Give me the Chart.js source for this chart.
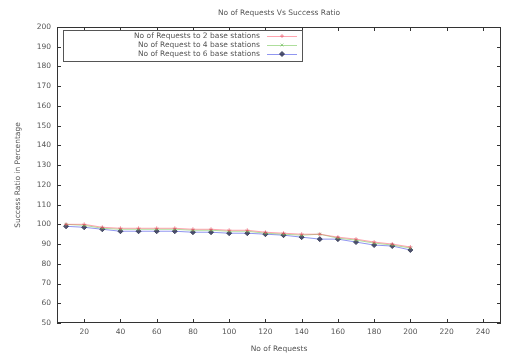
<!DOCTYPE html>
<html>
<head>
<meta charset="utf-8">
<script src="https://cdn.jsdelivr.net/npm/chart.js@4"></script>
<style>
  body { margin: 0; background: #fff; }
  canvas { display: block; }
</style>
</head>
<body>
<canvas id="chart" width="506" height="357"></canvas>
<script>
var requests = [10, 20, 30, 40, 50, 60, 70, 80, 90, 100, 110, 120, 130, 140, 150, 160, 170, 180, 190, 200];
var ratio2 = [100, 100, 98.5, 98, 98, 98, 98, 97.5, 97.5, 97, 97, 96, 95.5, 95, 95, 93.5, 92.5, 91, 90, 88.5];
var ratio4 = [100, 99.5, 98, 97.5, 97.5, 97.5, 97.5, 97, 97, 96.5, 96.5, 95.5, 95, 94.5, 95, 93, 92, 90.5, 89.5, 88];
var ratio6 = [99, 98.5, 97.5, 96.5, 96.5, 96.5, 96.5, 96, 96, 95.5, 95.5, 95, 94.5, 93.5, 92.5, 92.5, 91, 89.5, 89, 87];
var xTicks = [20, 40, 60, 80, 100, 120, 140, 160, 180, 200, 220, 240];
var yTicks = [50, 60, 70, 80, 90, 100, 110, 120, 130, 140, 150, 160, 170, 180, 190, 200];

var textColor = '#555';
var fontFam = '"DejaVu Sans", sans-serif';

function pts(ys) {
    return requests.map(function (x, i) { return { x: x, y: ys[i] }; });
}

// gnuplot style frame with inward ticks on all four sides
var framePlugin = {
    id: 'frame',
    afterDraw: function (chart) {
        var c = chart.ctx, a = chart.chartArea;
        var xs = chart.scales.x, ys = chart.scales.y;
        c.save();
        c.strokeStyle = '#333';
        c.lineWidth = 1;
        c.strokeRect(a.left + 0.5, a.top + 0.5, a.right - a.left - 1, a.bottom - a.top - 1);
        c.beginPath();
        xs.ticks.forEach(function (t) {
            var px = Math.round(xs.getPixelForValue(t.value)) + 0.5;
            c.moveTo(px, a.bottom); c.lineTo(px, a.bottom - 4);
            c.moveTo(px, a.top); c.lineTo(px, a.top + 4);
        });
        ys.ticks.forEach(function (t) {
            var py = Math.round(ys.getPixelForValue(t.value)) + 0.5;
            c.moveTo(a.left, py); c.lineTo(a.left + 4, py);
            c.moveTo(a.right, py); c.lineTo(a.right - 4, py);
        });
        c.stroke();

        // key box
        var bx = a.left + 6, by = a.top + 3, bw = 239, bh = 31;
        c.fillStyle = '#fff';
        c.fillRect(bx, by, bw, bh);
        c.strokeStyle = '#555';
        c.strokeRect(bx + 0.5, by + 0.5, bw, bh);
        c.font = '7.5px ' + fontFam;
        c.textAlign = 'right';
        c.textBaseline = 'middle';
        chart.data.datasets.forEach(function (ds, i) {
            var ly = by + 6 + i * 9;
            c.fillStyle = textColor;
            c.fillText(ds.label, bx + 197, ly);
            c.strokeStyle = ds.borderColor;
            c.beginPath();
            c.moveTo(bx + 204, ly + 0.5); c.lineTo(bx + 234, ly + 0.5);
            c.stroke();
            c.strokeStyle = ds.pointBorderColor;
            c.fillStyle = ds.backgroundColor;
            Chart.helpers.drawPoint(c, {
                pointStyle: ds.pointStyle, radius: ds.pointRadius, borderWidth: 1
            }, bx + 219, ly);
        });
        c.restore();
    }
};

var ctx = document.getElementById('chart');

var chartGraph = new Chart(ctx, {
    type: 'line',
    data: {
        datasets: [{
                label: 'No of Requests to 2 base stations',
                data: pts(ratio2),
                borderWidth: 1,
                borderColor: 'rgba(255, 90, 110, 0.55)',
                backgroundColor: 'rgba(255, 90, 110, 0.6)',
                pointStyle: 'cross',
                pointRadius: 2,
                pointBorderColor: 'rgba(230, 80, 100, 0.6)',
                tension: 0
            },
            {
                label: 'No of Request to 4 base stations',
                data: pts(ratio4),
                borderWidth: 1,
                borderColor: 'rgba(120, 200, 90, 0.6)',
                backgroundColor: 'rgba(120, 200, 90, 0.6)',
                pointStyle: 'crossRot',
                pointRadius: 2,
                pointBorderColor: 'rgba(100, 180, 80, 0.6)',
                tension: 0
            },
            {
                label: 'No of Request to 6 base stations',
                data: pts(ratio6),
                borderWidth: 1,
                borderColor: 'rgba(70, 80, 230, 0.6)',
                backgroundColor: 'rgba(50, 55, 85, 0.85)',
                pointStyle: 'rectRot',
                pointRadius: 2.5,
                pointBorderColor: 'rgba(50, 55, 85, 0.85)',
                tension: 0
            }
        ]
    },
    plugins: [framePlugin],
    options: {
        responsive: false,
        animation: false,
        layout: { padding: { left: 14, right: 4, top: 0, bottom: 3 } },
        plugins: {
            legend: { display: false },
            tooltip: { enabled: false },
            title: {
                display: true,
                fullSize: false,
                text: 'No of Requests Vs Success Ratio',
                color: textColor,
                font: { family: fontFam, size: 7.5, weight: 'normal' },
                padding: { top: 9, bottom: 9 }
            }
        },
        scales: {
            x: {
                type: 'linear',
                min: 5,
                max: 250,
                afterBuildTicks: function (s) { s.ticks = xTicks.map(function (v) { return { value: v }; }); },
                afterFit: function (s) { s.height = 31; },
                grid: { display: false, drawTicks: false },
                border: { display: false },
                ticks: { color: textColor, padding: 5, font: { family: fontFam, size: 7.5 }, maxRotation: 0 },
                title: {
                    display: true,
                    text: 'No of Requests',
                    color: textColor,
                    font: { family: fontFam, size: 7.5 },
                    padding: { top: 2, bottom: 0 }
                }
            },
            y: {
                min: 50,
                max: 200,
                afterBuildTicks: function (s) { s.ticks = yTicks.map(function (v) { return { value: v }; }); },
                afterFit: function (s) { s.width = 43; },
                grid: { display: false, drawTicks: false },
                border: { display: false },
                ticks: { color: textColor, padding: 6, font: { family: fontFam, size: 7.5 } },
                title: {
                    display: true,
                    text: 'Success Ratio in Percentage',
                    color: textColor,
                    font: { family: fontFam, size: 7.5 },
                    padding: { top: 0, bottom: 8 }
                }
            }
        }
    }
});
</script>
</body>
</html>
